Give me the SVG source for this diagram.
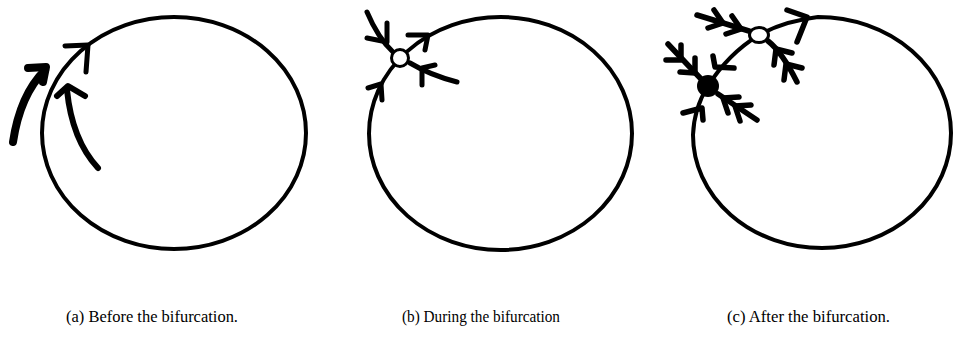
<svg xmlns="http://www.w3.org/2000/svg" width="953" height="354" viewBox="0 0 953 354">
<style>
.orbit{fill:none;stroke:#000;stroke-width:4}
.arr{fill:none;stroke:#000;stroke-width:5;stroke-linecap:round;stroke-linejoin:round}
.arrc{fill:none;stroke:#000;stroke-width:5.5;stroke-linecap:round;stroke-linejoin:round}
.thick{fill:none;stroke:#000;stroke-width:8;stroke-linecap:round;stroke-linejoin:round}
.mid{fill:none;stroke:#000;stroke-width:6;stroke-linecap:round;stroke-linejoin:round}
.saddle{fill:#fff;stroke:#000;stroke-width:3}
.cap{font-family:"Liberation Serif","Times New Roman",serif;font-size:17px;fill:#000}
</style>
<rect width="953" height="354" fill="#fff"/>

<!-- Panel (a) -->
<g id="panel-a">
  <ellipse class="orbit" cx="174" cy="133" rx="132" ry="116"/>
  <g id="a-connectors">
    <polyline class="arr" points="65,46 88,45 86,72"/>
    <path class="thick" d="M13 142 Q20 95 45 70"/>
    <polyline class="thick" points="28,68 46,67 43,82"/>
    <path class="mid" d="M98 168 Q72 140 67 90"/>
    <polyline class="mid" points="57,96 68,86 85,96"/>
  </g>
  <text class="cap" x="66" y="322" textLength="172" lengthAdjust="spacingAndGlyphs">(a) Before the bifurcation.</text>
</g>

<!-- Panel (b) -->
<g id="panel-b">
  <ellipse class="orbit" cx="500.5" cy="133.5" rx="131.5" ry="116.5"/>
  <g id="b-connectors">
    <path class="arr" d="M367 12 Q378 38 393 52"/>
    <polyline class="arr" points="387,23 387,42 367,38"/>
    <polyline class="arr" points="408,35 428,35 425,50"/>
    <path class="arr" d="M457 82 Q430 75 410 63"/>
    <polyline class="arr" points="435,65 422,68 422,85"/>
    <polyline class="arr" points="368,88 381,84 382,100"/>
  </g>
  <g id="b-saddle"><circle class="saddle" cx="400" cy="58" r="8.5"/></g>
  <text class="cap" x="402" y="322" textLength="158" lengthAdjust="spacingAndGlyphs">(b) During the bifurcation</text>
</g>

<!-- Panel (c) -->
<g id="panel-c">
  <path class="orbit" d="M693 135 Q694 108 708 86 Q728 54 759 35 Q784 21 818 17 A133 116 0 0 1 951 133 A129 115 0 0 1 822 248 A129 113 0 0 1 693 135 Z"/>
  <g id="c-connectors">
    <path class="arrc" d="M697 15 L749 31"/>
    <polyline class="arrc" points="714,10 723,23 708,28"/>
    <polyline class="arrc" points="732,16 741,29 726,34"/>
    <polyline class="arrc" points="787,10 807,17 797,42"/>
    <path class="arrc" d="M797 82 Q782 52 768 41"/>
    <polyline class="arrc" points="774,65 776,49 792,53"/>
    <polyline class="arrc" points="784,80 786,64 802,68"/>
    <polyline class="arrc" points="713,56 715,67 734,68"/>
    <path class="arrc" d="M668 44 L702 80"/>
    <polyline class="arrc" points="681,45 681,60 666,60"/>
    <polyline class="arrc" points="695,58 695,73 680,72"/>
    <path class="arrc" d="M757 120 L718 94"/>
    <polyline class="arrc" points="728,113 723,98 739,97"/>
    <polyline class="arrc" points="740,121 735,106 751,105"/>
    <polyline class="arrc" points="683,113 702,108 703,120"/>
  </g>
  <g id="c-saddle"><ellipse class="saddle" cx="759" cy="35" rx="9.5" ry="7.5"/></g>
  <g id="c-node"><circle cx="708" cy="86" r="11" fill="#000"/></g>
  <text class="cap" x="727" y="322" textLength="163" lengthAdjust="spacingAndGlyphs">(c) After the bifurcation.</text>
</g>
</svg>
